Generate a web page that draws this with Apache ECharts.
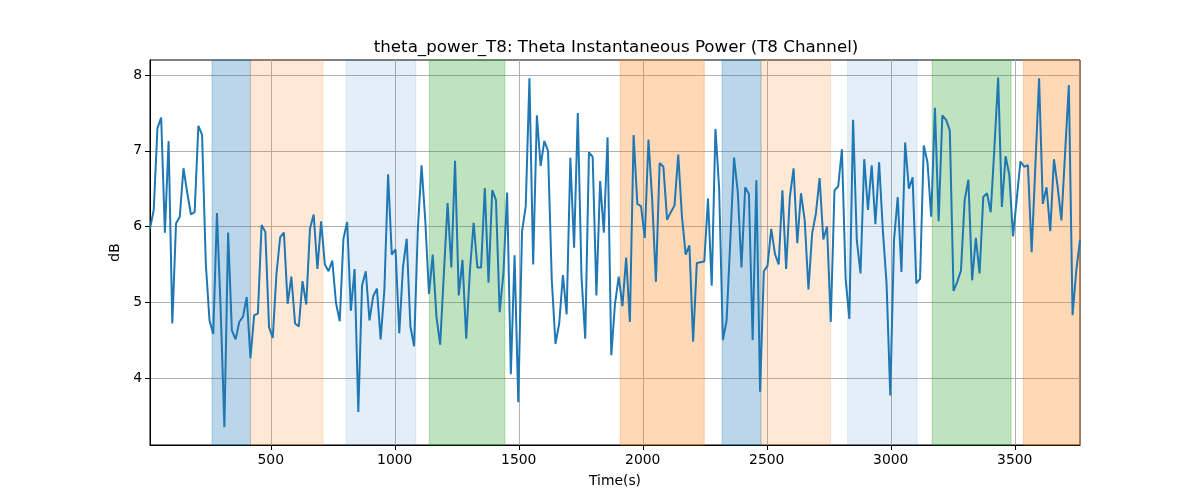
<!DOCTYPE html>
<html>
<head>
<meta charset="utf-8">
<script src="https://cdn.jsdelivr.net/npm/echarts@6/dist/echarts.min.js"></script>
<style>
  html, body { margin: 0; padding: 0; background: #ffffff; }
  #chart { width: 1200px; height: 500px; }
</style>
</head>
<body>
<div id="chart"></div>
<script>
// ---- data ----
const startTime = 13;      // first sample time (s)
const sampleStep = 15;     // seconds between samples
const thetaPowerDb = [
  5.97, 6.22, 7.30, 7.44, 5.92, 7.13, 4.72, 6.04, 6.13, 6.77,
  6.45, 6.16, 6.19, 7.33, 7.21, 5.51, 4.76, 4.58, 6.18, 4.90,
  3.35, 5.92, 4.63, 4.51, 4.74, 4.81, 5.07, 4.26, 4.83, 4.85,
  6.02, 5.93, 4.67, 4.53, 5.38, 5.86, 5.92, 4.98, 5.34, 4.72,
  4.68, 5.28, 4.97, 5.97, 6.16, 5.44, 6.07, 5.50, 5.41, 5.55,
  4.99, 4.75, 5.84, 6.06, 4.89, 5.44, 3.55, 5.22, 5.41, 4.76,
  5.08, 5.18, 4.51, 5.16, 6.69, 5.63, 5.70, 4.59, 5.46, 5.84,
  4.68, 4.42, 5.97, 6.81, 6.08, 5.11, 5.63, 4.81, 4.44, 5.38,
  6.31, 5.46, 6.87, 5.09, 5.56, 4.52, 5.42, 6.05, 5.46, 5.46,
  6.51, 5.26, 6.48, 6.35, 4.87, 5.38, 6.45, 4.05, 5.62, 3.68,
  5.93, 6.27, 7.96, 5.50, 7.47, 6.80, 7.13, 7.00, 5.30, 4.45,
  4.72, 5.36, 4.84, 6.91, 5.72, 7.50, 5.33, 4.52, 6.98, 6.92,
  5.09, 6.60, 5.92, 7.18, 4.30, 4.98, 5.34, 4.95, 5.59, 4.74,
  7.21, 6.30, 6.27, 5.85, 7.15, 6.35, 5.27, 6.84, 6.79, 6.09,
  6.19, 6.28, 6.95, 6.13, 5.63, 5.75, 4.48, 5.52, 5.53, 5.54,
  6.37, 5.22, 7.29, 6.50, 4.50, 4.76, 5.82, 6.91, 6.46, 5.46,
  6.52, 6.43, 4.50, 6.61, 3.82, 5.41, 5.48, 5.97, 5.64, 5.50,
  6.48, 5.44, 6.39, 6.77, 5.78, 6.44, 6.08, 5.17, 5.91, 6.17,
  6.64, 5.83, 6.00, 4.74, 6.48, 6.53, 7.02, 5.31, 4.78, 7.41,
  5.82, 5.38, 6.89, 6.22, 6.81, 6.03, 6.85, 5.95, 5.25, 3.77,
  5.82, 6.39, 5.40, 7.11, 6.50, 6.65, 5.25, 5.31, 7.07, 6.85,
  6.13, 7.57, 6.07, 7.47, 7.41, 7.27, 5.15, 5.27, 5.42, 6.35,
  6.62, 5.29, 5.85, 5.38, 6.39, 6.44, 6.19, 7.05, 7.97, 6.26,
  6.93, 6.68, 5.87, 6.37, 6.86, 6.79, 6.81, 5.66, 6.80, 7.96,
  6.30, 6.52, 5.94, 6.89, 6.52, 6.08, 6.98, 7.87, 4.83, 5.42,
  5.82
];
const regionStarts = [263, 418, 804, 1139, 1909, 2320, 2477, 2826, 3167, 3535];
const regionEnds   = [418, 711, 1085, 1444, 2248, 2477, 2757, 3106, 3485, 3765];
const regionKinds  = ['A', 'B', 'C', 'D', 'E', 'A', 'B', 'C', 'D', 'E'];
const xTickValues = [500, 1000, 1500, 2000, 2500, 3000, 3500];
const yTickValues = [4, 5, 6, 7, 8];
const titleText = 'theta_power_T8: Theta Instantaneous Power (T8 Channel)';
const xLabel = 'Time(s)';
const yLabel = 'dB';

// ---- styles ----
const kindColors = {
  A: 'rgba(31,119,180,0.3)',
  B: 'rgba(255,127,14,0.17)',
  C: 'rgba(31,119,180,0.12)',
  D: 'rgba(44,160,44,0.3)',
  E: 'rgba(255,127,14,0.3)'
};
const FONT = 'DejaVu Sans';

const times = thetaPowerDb.map((_, i) => startTime + i * sampleStep);
const lineData = thetaPowerDb.map((v, i) => [times[i], v]);
const xMin = times[0];
const xMax = times[times.length - 1];

const areas = regionStarts.map((s, i) => [
  { xAxis: s, itemStyle: { color: kindColors[regionKinds[i]], borderColor: kindColors[regionKinds[i]], borderWidth: 1 } },
  { xAxis: regionEnds[i] }
]);

const chart = echarts.init(document.getElementById('chart'), null, { renderer: 'canvas' });
chart.setOption({
  animation: false,
  backgroundColor: '#ffffff',
  textStyle: { fontFamily: FONT },
  title: {
    text: titleText,
    left: 611,
    textAlign: 'center',
    top: 34,
    textStyle: { fontFamily: FONT, fontSize: 16.7, fontWeight: 'normal', color: '#000' }
  },
  grid: {
    left: 150, right: 120, top: 60, bottom: 55,
    show: true, borderColor: '#000', borderWidth: 1, backgroundColor: 'transparent'
  },
  xAxis: {
    type: 'value',
    min: xMin, max: xMax,
    minInterval: 500, maxInterval: 500,
    name: xLabel,
    nameLocation: 'middle',
    nameGap: 29,
    nameTextStyle: { fontFamily: FONT, fontSize: 13.9, color: '#000' },
    axisLine: { show: true, lineStyle: { color: '#000', width: 1 } },
    axisTick: { show: true, inside: false, length: 5, lineStyle: { color: '#000' },
      customValues: xTickValues },
    axisLabel: { show: true, margin: 8, fontFamily: FONT, fontSize: 13.9, color: '#000',
      customValues: xTickValues,
      formatter: v => (xTickValues.indexOf(v) >= 0 ? String(v) : '') },
    splitLine: { show: true, lineStyle: { color: '#b0b0b0', width: 1 } }
  },
  yAxis: {
    type: 'value',
    min: 3.115, max: 8.2,
    minInterval: 1, maxInterval: 1,
    name: yLabel,
    nameLocation: 'middle',
    nameGap: 24,
    nameRotate: 90,
    nameTextStyle: { fontFamily: FONT, fontSize: 13.9, color: '#000' },
    axisLine: { show: true, lineStyle: { color: '#000', width: 1 } },
    axisTick: { show: true, inside: false, length: 5, lineStyle: { color: '#000' },
      customValues: yTickValues },
    axisLabel: { show: true, margin: 8, fontFamily: FONT, fontSize: 13.9, color: '#000',
      customValues: yTickValues,
      formatter: v => (yTickValues.indexOf(v) >= 0 ? String(v) : '') },
    splitLine: { show: true, lineStyle: { color: '#b0b0b0', width: 1 } }
  },
  series: [{
    type: 'line',
    data: lineData,
    showSymbol: false,
    symbol: 'none',
    lineStyle: { color: '#1f77b4', width: 2 },
    itemStyle: { color: '#1f77b4' },
    z: 3,
    markArea: {
      silent: true,
      data: areas
    }
  }]
});
</script>
</body>
</html>
